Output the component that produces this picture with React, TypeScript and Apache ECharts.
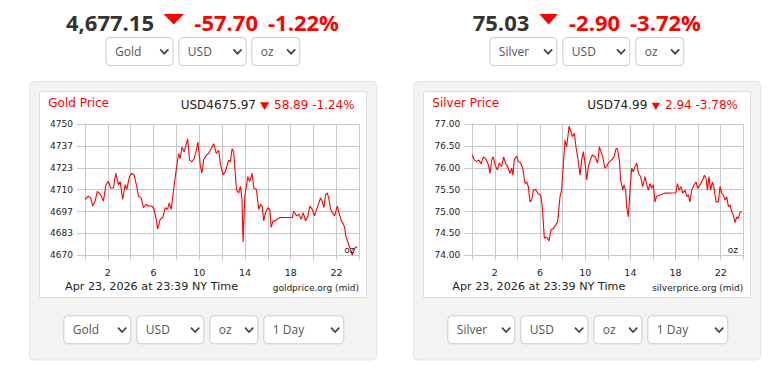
import React, { useEffect, useRef } from "react";
import * as echarts from "echarts";

// ---------- data ----------
const goldHours = [0,0.29,0.5,0.67,0.88,1.08,1.37,1.61,1.84,2.05,2.25,2.49,2.69,2.92,3.07,3.3,3.51,3.65,3.89,4.09,4.3,4.53,4.68,4.91,5.12,5.35,5.56,5.85,6.05,6.23,6.35,6.58,6.81,7.02,7.22,7.37,7.54,7.75,7.98,8.19,8.33,8.48,8.68,8.98,9.15,9.36,9.56,9.74,9.88,10.09,10.23,10.38,10.61,10.82,10.96,11.26,11.49,11.7,11.84,12.08,12.28,12.57,12.72,12.87,13.01,13.25,13.45,13.6,13.74,13.83,13.98,14.12,14.24,14.42,14.62,14.77,15.0,15.2,15.35,15.5,15.64,15.79,16.0,16.17,16.29,16.46,16.67,16.81,17.05,18.13,18.27,18.51,18.71,18.92,19.09,19.3,19.5,19.68,19.88,20.09,20.26,20.47,20.61,20.76,20.91,21.05,21.2,21.35,21.49,21.64,21.84,22.08,22.22,22.43,22.6,22.72,22.81,22.95,23.1,23.25,23.39,23.54,23.68,23.83];
const goldPrices = [4704,4706,4705,4700,4703,4709,4707,4703,4713,4715,4711,4711,4720,4713,4715,4704,4713,4710,4718,4720,4719,4712,4706,4705,4699,4701,4700,4700,4698,4692,4686,4692,4693,4699,4698,4702,4698,4710,4722,4732,4729,4736,4733,4741,4728,4727,4729,4734,4739,4725,4720,4728,4731,4732,4734,4738,4732,4734,4726,4719,4721,4728,4727,4735,4733,4710,4708,4712,4704,4678,4706,4712,4718,4715,4720,4711,4710,4698,4701,4700,4691,4696,4699,4698,4687,4691,4691,4692,4693,4693,4697,4694,4695,4692,4696,4691,4694,4700,4698,4694,4698,4702,4705,4703,4699,4707,4708,4704,4698,4696,4694,4700,4696,4691,4689,4687,4682,4679,4676,4673,4670,4673,4675,4675];

const silverHours = [0,0.18,0.39,0.59,0.77,0.98,1.18,1.42,1.57,1.72,1.86,2.01,2.22,2.39,2.6,2.78,2.95,3.13,3.34,3.49,3.6,3.72,3.93,4.08,4.28,4.46,4.67,4.81,4.96,5.11,5.26,5.41,5.61,5.85,6.06,6.2,6.38,6.59,6.79,6.97,7.18,7.38,7.56,7.77,7.91,8.06,8.21,8.36,8.57,8.74,8.86,9.04,9.18,9.39,9.54,9.69,9.83,9.98,10.13,10.28,10.49,10.63,10.87,11.1,11.25,11.55,11.75,11.9,12.05,12.34,12.55,12.73,12.85,13.02,13.14,13.32,13.44,13.58,13.67,13.82,13.97,14.11,14.26,14.41,14.56,14.71,14.91,15.09,15.3,15.45,15.59,15.74,15.89,16.03,16.18,16.33,16.63,17.07,18.04,18.16,18.31,18.49,18.63,18.84,18.99,19.14,19.28,19.43,19.64,19.82,19.96,20.17,20.4,20.55,20.7,20.82,20.96,21.11,21.26,21.41,21.59,21.79,21.94,22.09,22.23,22.38,22.53,22.68,22.82,22.97,23.12,23.27,23.42,23.56,23.71,23.86];
const silverPrices = [76.29,76.18,76.14,76.18,76.09,76.25,76.21,76.07,75.87,76.18,76.25,76.07,75.95,76.11,76.03,76.25,76.09,76.03,75.87,75.99,75.83,76.18,76.27,76.14,76.11,75.99,75.64,75.68,75.57,75.22,75.26,75.49,75.5,75.4,75.38,75.11,74.39,74.42,74.33,74.58,74.61,74.69,74.77,75.34,75.49,76.06,76.63,76.48,76.95,76.83,76.71,76.79,76.48,76.14,75.83,76.18,76.37,76.11,75.72,76.03,76.21,76.29,76.25,76.11,76.48,76.25,75.99,76.03,76.11,76.18,76.25,76.44,76.44,76.18,75.72,75.49,75.61,75.49,75.11,74.88,75.49,75.99,75.91,76.03,76.11,75.87,75.8,75.57,75.8,75.61,75.49,75.64,75.53,75.61,75.22,75.35,75.38,75.42,75.43,75.64,75.49,75.57,75.42,75.49,75.34,75.38,75.22,75.49,75.61,75.68,75.53,75.61,75.72,75.83,75.76,75.49,75.8,75.49,75.68,75.53,75.22,75.22,75.57,75.42,75.38,75.26,75.34,75.11,75.15,75.0,74.92,74.75,74.88,74.84,74.98,75.0];

const goldTickLabels = ["4670", "4683", "4697", "4710", "4723", "4737", "4750"];
const goldMin = 4670;
const goldMax = 4750;
const silverMin = 74;
const silverMax = 77;
const xLabelHours = [2, 6, 10, 14, 18, 22];

const goldHeader = { price: "4,677.15", change: "-57.70", pct: "-1.22%" };
const silverHeader = { price: "75.03", change: "-2.90", pct: "-3.72%" };
const goldPanel = { title: "Gold Price", price: "USD4675.97", change: "58.89 -1.24%", source: "goldprice.org (mid)" };
const silverPanel = { title: "Silver Price", price: "USD74.99", change: "2.94 -3.78%", source: "silverprice.org (mid)" };
const stamp = "Apr 23, 2026 at 23:39 NY Time";

const RED = "#ff0000";
const DARK = "#222";
const GRID = "#c8c8c8";
const CHART_FONT = '"DejaVu Sans", Verdana, sans-serif';
const HEAD_FONT = '"Open Sans", sans-serif';

function selectBox(x: number, y: number, w: number, h: number, label: string): any[] {
  const c = y + h / 2;
  const r = x + w;
  return [
    { type: "rect", z: 5, shape: { x: x + 0.5, y: y + 0.5, width: w - 1, height: h - 1, r: 4 }, style: { fill: "#fff", stroke: "#cacaca", lineWidth: 1 } },
    { type: "text", z: 6, x: x + 9.5, y: c, style: { text: label, fontSize: 12, fontFamily: HEAD_FONT, fill: "#555", align: "left", verticalAlign: "middle" } },
    { type: "polyline", z: 6, shape: { points: [[r - 13.3, c - 2.2], [r - 9.2, c + 2.2], [r - 5.1, c - 2.2]] }, style: { stroke: "#444", lineWidth: 1.7, fill: null } },
  ];
}

function txt(x: number, y: number, text: string, size: number, fill: string, opts: any = {}): any {
  return {
    type: "text", z: 20, x, y,
    style: { text, fontSize: size, fontFamily: opts.family || CHART_FONT, fontWeight: opts.weight || "normal", fill, align: opts.align || "left", verticalAlign: "middle" },
  };
}

function tri(x1: number, x2: number, y1: number, y2: number): any {
  return { type: "polygon", z: 20, shape: { points: [[x1, y1], [x2, y1], [(x1 + x2) / 2, y2]] }, style: { fill: RED } };
}

export default function App() {
  const ref = useRef<HTMLDivElement>(null);
  useEffect(() => {
    if (!ref.current) return;
    const chart = echarts.init(ref.current, undefined, { renderer: "svg" });
    const goldStep = (goldMax - goldMin) / 6;

    const xAxisBase = (gridIndex: number) => ({
      type: "value", gridIndex, min: 0, max: 24, interval: 2,
      axisLine: { show: true, lineStyle: { color: GRID, width: 1 } },
      axisTick: { show: true, length: 5, lineStyle: { color: GRID } },
      splitLine: { show: true, lineStyle: { color: GRID, width: 1 } },
      axisLabel: {
        margin: 12, fontSize: 9.5, fontFamily: CHART_FONT, color: DARK,
        formatter: (v: number) => (xLabelHours.indexOf(v) >= 0 ? String(v) : ""),
      },
    });

    const graphics: any[] = [
      // panels
      { type: "rect", z: -100, shape: { x: 29.5, y: 81.5, width: 347, height: 278.5, r: 4 }, style: { fill: "#f3f3f3", stroke: "#e4e4e4" } },
      { type: "rect", z: -99, shape: { x: 39.5, y: 91.5, width: 327, height: 206 }, style: { fill: "#fff", stroke: "#dcdcdc" } },
      { type: "rect", z: -100, shape: { x: 413.5, y: 81.5, width: 347, height: 278.5, r: 4 }, style: { fill: "#f3f3f3", stroke: "#e4e4e4" } },
      { type: "rect", z: -99, shape: { x: 423.5, y: 91.5, width: 327, height: 206 }, style: { fill: "#fff", stroke: "#dcdcdc" } },
      // headers
      txt(66, 21.7, goldHeader.price, 22, "#333", { family: HEAD_FONT, weight: "bold" }),
      tri(163.5, 184, 14, 24.5),
      txt(194.3, 21.7, goldHeader.change, 22, RED, { family: HEAD_FONT, weight: "bold" }),
      txt(268, 21.7, goldHeader.pct, 22, RED, { family: HEAD_FONT, weight: "bold" }),
      txt(472.7, 21.7, silverHeader.price, 22, "#333", { family: HEAD_FONT, weight: "bold" }),
      tri(539.3, 558, 14, 24.5),
      txt(569, 21.7, silverHeader.change, 22, RED, { family: HEAD_FONT, weight: "bold" }),
      txt(630, 21.7, silverHeader.pct, 22, RED, { family: HEAD_FONT, weight: "bold" }),
      // panel titles
      txt(48.3, 103, goldPanel.title, 12, RED),
      txt(180.7, 104.5, goldPanel.price, 12, DARK),
      tri(260, 269.3, 102.3, 110),
      txt(274, 104.5, goldPanel.change, 12, RED),
      txt(432.3, 103.3, silverPanel.title, 12, RED),
      txt(587.3, 105, silverPanel.price, 12, DARK),
      tri(651.7, 660, 102.7, 110),
      txt(665, 105, silverPanel.change, 12, RED),
      // footers
      txt(65, 286.5, stamp, 11.2, DARK),
      txt(359, 287.5, goldPanel.source, 9, DARK, { align: "right" }),
      txt(452.3, 286.5, stamp, 11.2, DARK),
      txt(743.3, 287.5, silverPanel.source, 9, DARK, { align: "right" }),
      // unit labels
      txt(354.5, 250, "oz", 9, DARK, { align: "right" }),
      txt(738, 250, "oz", 9, DARK, { align: "right" }),
      // selects
      ...selectBox(105.5, 37, 68, 29, "Gold"),
      ...selectBox(178.3, 37, 68.4, 29, "USD"),
      ...selectBox(251.3, 37, 49, 29, "oz"),
      ...selectBox(489.3, 37, 68, 29, "Silver"),
      ...selectBox(562.3, 37, 68, 29, "USD"),
      ...selectBox(635.3, 37, 49, 29, "oz"),
      ...selectBox(63.3, 315.3, 68, 29, "Gold"),
      ...selectBox(136.3, 315.3, 68, 29, "USD"),
      ...selectBox(209.3, 315.3, 49, 29, "oz"),
      ...selectBox(263.3, 315.3, 81, 29, "1 Day"),
      ...selectBox(447.3, 315.3, 68, 29, "Silver"),
      ...selectBox(520.3, 315.3, 68, 29, "USD"),
      ...selectBox(593.3, 315.3, 49, 29, "oz"),
      ...selectBox(647.3, 315.3, 81, 29, "1 Day"),
    ];

    chart.setOption({
      animation: false,
      backgroundColor: "#ffffff",
      grid: [
        { left: 85, top: 124, width: 274.3, height: 131.3 },
        { left: 472.3, top: 124, width: 271, height: 131.3 },
      ],
      xAxis: [xAxisBase(0), xAxisBase(1)],
      yAxis: [
        {
          type: "value", gridIndex: 0, min: 0, max: goldMax - goldMin, interval: goldStep,
          axisLine: { show: true, lineStyle: { color: GRID } },
          axisTick: { show: true, length: 8, lineStyle: { color: GRID } },
          splitLine: { show: true, lineStyle: { color: GRID } },
          axisLabel: {
            margin: 12, fontSize: 9, fontFamily: CHART_FONT, color: DARK,
            formatter: (v: number) => goldTickLabels[Math.round(v / goldStep)] || "",
          },
        },
        {
          type: "value", gridIndex: 1, min: silverMin, max: silverMax, interval: 0.5,
          axisLine: { show: true, lineStyle: { color: GRID } },
          axisTick: { show: true, length: 8, lineStyle: { color: GRID } },
          splitLine: { show: true, lineStyle: { color: GRID } },
          axisLabel: {
            margin: 12, fontSize: 9, fontFamily: CHART_FONT, color: DARK,
            formatter: (v: number) => v.toFixed(2),
          },
        },
      ],
      series: [
        {
          type: "line", xAxisIndex: 0, yAxisIndex: 0, showSymbol: false, symbol: "none",
          data: goldHours.map((h, i) => [h, goldPrices[i] - goldMin]),
          lineStyle: { color: RED, width: 1.1 }, z: 3,
        },
        {
          type: "line", xAxisIndex: 1, yAxisIndex: 1, showSymbol: false, symbol: "none",
          data: silverHours.map((h, i) => [h, silverPrices[i]]),
          lineStyle: { color: RED, width: 1.1 }, z: 3,
        },
      ],
      graphic: { elements: graphics },
    });
    return () => chart.dispose();
  }, []);
  return <div ref={ref} style={{ position: "absolute", left: 0, top: 0, width: 778, height: 374 }} />;
}
